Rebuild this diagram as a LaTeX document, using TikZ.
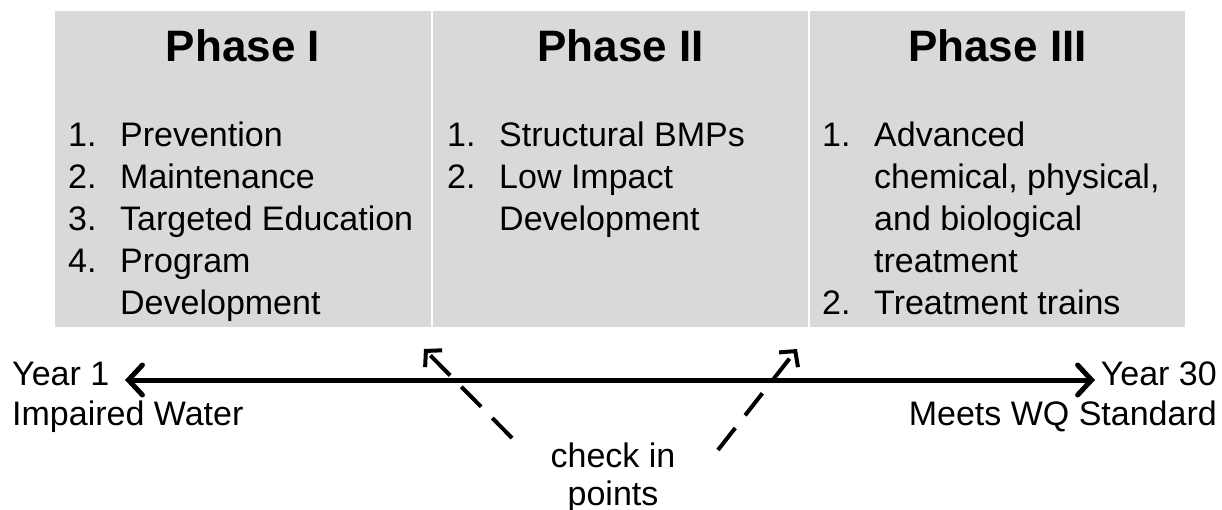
\documentclass[tikz,border=0pt]{standalone}
\usepackage{fontspec}
\setmainfont{Liberation Sans}
\usetikzlibrary{arrows.meta}
\definecolor{boxgray}{HTML}{D9D9D9}
\tikzset{
  phasebox/.style={fill=boxgray, draw=none, inner sep=0pt, anchor=north west},
  title/.style={font=\fontsize{44}{50}\selectfont\bfseries, anchor=base, inner sep=0pt},
  body/.style={font=\fontsize{34}{42}\selectfont, anchor=base west, inner sep=0pt},
  lbl/.style={font=\fontsize{34}{40}\selectfont, inner sep=0pt},
  timeline/.style={line width=5pt, line cap=round, {Straight Barb[length=14pt,width=30pt,line cap=round]}-{Straight Barb[length=14pt,width=30pt,line cap=round]}},
  checkarrow/.style={line width=4pt, dash pattern=on 28pt off 16pt, -{Straight Barb[length=11pt,width=24pt]}}
}
\newcommand{\itm}[1]{\makebox[52pt][l]{#1}}
\begin{document}
\begin{tikzpicture}[x=1pt,y=-1pt]
\useasboundingbox (0,0) rectangle (1222,510);
% boxes
\node[phasebox, minimum width=376pt, minimum height=316pt] (b1) at (55,11) {};
\node[phasebox, minimum width=375pt, minimum height=316pt] (b2) at (433,11) {};
\node[phasebox, minimum width=375pt, minimum height=316pt] (b3) at (810,11) {};
% titles
\node[title] (t1) at (243,62) {Phase I};
\node[title] (t2) at (620.5,62) {Phase II};
\node[title] (t3) at (997.5,62) {Phase III};
% lists
\node[body] (l1) at (68,147) {\begin{tabular}[t]{@{}l@{}}
\itm{1.}Prevention\\
\itm{2.}Maintenance\\
\itm{3.}Targeted Education\\
\itm{4.}Program\\
\itm{}Development
\end{tabular}};
\node[body] (l2) at (447,147) {\begin{tabular}[t]{@{}l@{}}
\itm{1.}Structural BMPs\\
\itm{2.}Low Impact\\
\itm{}Development
\end{tabular}};
\node[body] (l3) at (822,147) {\begin{tabular}[t]{@{}l@{}}
\itm{1.}Advanced\\
\itm{}chemical, physical,\\
\itm{}and biological\\
\itm{}treatment\\
\itm{2.}Treatment trains
\end{tabular}};
% timeline labels
\node[lbl, anchor=base west] (y1) at (12,385) {Year 1};
\node[lbl, anchor=base west] (y1b) at (12,425) {Impaired Water};
\node[lbl, anchor=base east] (y30) at (1217,385) {Year 30};
\node[lbl, anchor=base east] (y30b) at (1217,425) {Meets WQ Standard};
\coordinate (tl) at (125,380);
\coordinate (tr) at (1095,380);
\draw[timeline] (tl) -- (tr);
% check in points
\node[lbl, anchor=base] (chk) at (613,467) {check in};
\node[lbl, anchor=base] (chkb) at (613,505) {points};
\coordinate (c1s) at (512,438);
\coordinate (c1e) at (424,349);
\coordinate (c2s) at (718,450);
\coordinate (c2e) at (797,349);
\draw[checkarrow] (c1s) -- (c1e);
\draw[checkarrow] (c2s) -- (c2e);
\end{tikzpicture}
\end{document}
